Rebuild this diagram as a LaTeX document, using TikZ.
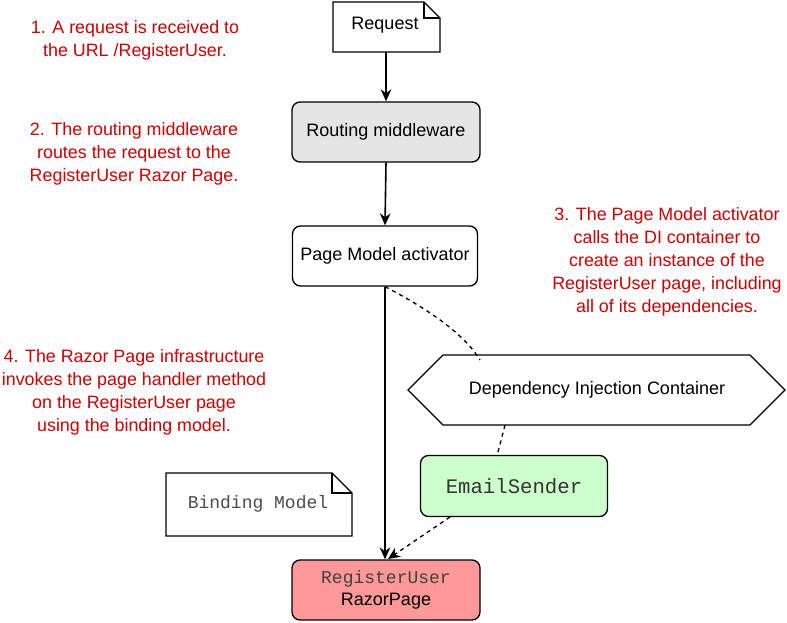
\documentclass[tikz,border=0pt]{standalone}
\usepackage{fontspec}
\setmainfont{Liberation Sans}
\newfontfamily\monof{Liberation Mono}
\usetikzlibrary{arrows.meta}
\begin{document}
\begin{tikzpicture}[x=0.75pt,y=-0.75pt,
  box/.style={draw,line width=1pt,rounded corners=6pt,font=\fontsize{13.5}{15}\selectfont},
  note/.style={text=red!80!black,align=center,font=\fontsize{13.4}{17.2}\selectfont},
  mono/.style={font=\monof\fontsize{13.5}{15}\selectfont},
  arr/.style={-{Stealth[length=9pt,width=8pt]},line width=1.2pt},
  dsh/.style={dashed,line width=1pt}]
\useasboundingbox (0,0) rectangle (787,623);
% Request doc
\draw[line width=1pt,fill=white] (333,2) -- (424,2) -- (440,18) -- (440,52) -- (333,52) -- cycle;
\draw[line width=1pt] (424,2) -- (424,18) -- (440,18);
\node[font=\fontsize{13.5}{15}\selectfont] (req) at (385,25) {Request};
\coordinate (reqb) at (386,52);
% Binding model doc
\draw[line width=1pt,fill=white] (166,473) -- (332,473) -- (352,493) -- (352,536) -- (166,536) -- cycle;
\draw[line width=1pt] (332,473) -- (332,493) -- (352,493);
\node[mono,text=black!70] (bm) at (258,504) {Binding Model};
\node[box,fill=black!10,minimum width=188*0.75pt,minimum height=60*0.75pt] (rm) at (386,132) {Routing middleware};
\node[box,fill=white,minimum width=185*0.75pt,minimum height=60*0.75pt] (pm) at (385,256) {Page Model activator};
\draw[line width=1pt,fill=white] (408,390) -- (443,355) -- (750,355) -- (785,390) -- (750,425) -- (443,425) -- cycle;
\node[font=\fontsize{13.5}{15}\selectfont] (di) at (597,390) {Dependency Injection Container};
\node[box,fill=green!20,minimum width=187*0.75pt,minimum height=61*0.75pt,font=\monof\fontsize{15.5}{17}\selectfont,text=black!80] (es) at (514,486) {EmailSender};
\node[box,fill=red!40,minimum width=188*0.75pt,minimum height=60*0.75pt,align=center] (ru) at (386,590) {{\monof\fontsize{13.5}{15}\selectfont\color{black!75}RegisterUser}\\[1pt]RazorPage};
\draw[arr] (reqb) -- (rm.north);
\draw[arr] (rm.south) -- (pm.north);
\draw[arr] (pm.south) -- (pm.south |- ru.north);
\coordinate (hx1) at (480,360);
\coordinate (hx2) at (505,425);
\coordinate (est) at (497,456);
\coordinate (esb) at (450,517);
\coordinate (rut) at (388,559);
\draw[dsh] (pm.south) .. controls (430,310) and (465,335) .. (hx1);
\draw[dsh] (hx2) -- (est);
\draw[dsh,-{Stealth[length=9pt,width=8pt]}] (esb) -- (rut);
\node[note] (n1) at (135,40) {1. A request is received to\\the URL /RegisterUser.};
\node[note] (n2) at (134,154) {2. The routing middleware\\routes the request to the\\RegisterUser Razor Page.};
\node[note] (n3) at (667,262) {3. The Page Model activator\\calls the DI container to\\create an instance of the\\RegisterUser page, including\\all of its dependencies.};
\node[note] (n4) at (134,392) {4. The Razor Page infrastructure\\invokes the page handler method\\on the RegisterUser page\\using the binding model.};
\end{tikzpicture}
\end{document}
